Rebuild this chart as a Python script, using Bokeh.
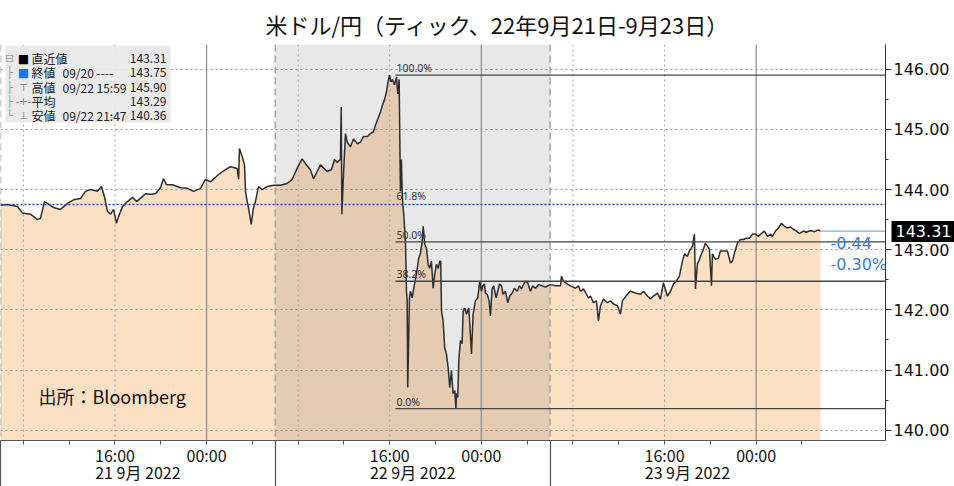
from bokeh.plotting import figure
from bokeh.models import (Range1d, LinearAxis, FixedTicker, Span, BoxAnnotation,
                          Label, NumeralTickFormatter, ColumnDataSource)
from bokeh.embed import file_html
from bokeh.resources import INLINE

TITLE = "米ドル/円（ティック、22年9月21日-9月23日）"
SOURCE = "出所：Bloomberg"

# hours since 2022-09-21 06:00 (JST)
hours = [
    0.00, 0.60, 1.48, 1.92, 2.62, 3.23, 3.49, 3.84, 4.10, 4.63, 5.24, 5.85, 6.38, 6.99,
    7.42, 7.86, 8.47, 8.82, 9.08, 9.34, 9.61, 9.87, 10.13, 10.31, 10.66, 11.09, 11.53,
    11.88, 12.31, 12.66, 13.10, 13.54, 13.97, 14.24, 14.50, 15.02, 15.72, 16.33, 16.86,
    17.47, 17.90, 18.34,
    18.60, 19.04, 19.65, 20.09, 20.67, 20.80, 20.87, 21.11, 21.31, 21.40, 21.55, 21.66,
    21.90, 22.07, 22.27, 22.53, 22.86, 23.29, 23.84, 24.45, 25.04, 25.48, 25.85, 26.20,
    26.35, 26.64, 27.07, 27.34, 27.66, 27.95, 28.21, 28.53, 28.91, 29.17, 29.41, 29.69,
    29.76, 29.82, 29.93, 30.13, 30.28, 30.57, 30.83, 31.18, 31.44, 31.70, 32.05, 32.31,
    32.58, 32.75, 32.93, 33.19, 33.36, 33.54, 33.71, 33.85, 33.98, 34.10, 34.24, 34.41,
    34.59, 34.70, 34.82,
    34.93, 35.02, 35.08, 35.14, 35.22, 35.37, 35.46, 35.52, 35.57, 35.72, 35.81, 35.96,
    36.10, 36.33, 36.53, 36.68, 36.83, 36.92, 37.06, 37.21, 37.35, 37.49, 37.64, 37.79,
    37.93, 38.08, 38.23, 38.37, 38.45, 38.52, 38.66, 38.80, 38.95, 39.10, 39.24, 39.39,
    39.53, 39.68, 39.78, 39.83, 39.94, 40.03, 40.17, 40.32, 40.41, 40.55, 40.70, 40.90,
    40.99, 41.14, 41.28, 41.48, 41.69,
    41.86, 42.01, 42.12, 42.27, 42.36, 42.51, 42.68, 42.79, 42.94, 43.08, 43.29, 43.58,
    43.76, 43.90, 44.10, 44.31, 44.48, 44.69, 44.89, 45.13, 45.33, 45.50, 45.70, 45.85,
    46.05, 46.29, 46.49, 46.72, 47.01, 47.31, 47.60, 48.03, 48.47, 48.91,
    49.00, 49.17, 49.52, 49.78, 50.22, 50.48, 50.66, 50.92, 51.18, 51.35, 51.53, 51.79,
    52.05, 52.23, 52.40, 52.66, 53.01, 53.28, 53.54, 53.89, 54.15, 54.32, 54.76, 55.02,
    55.46, 55.90, 56.16, 56.51, 56.77, 57.03, 57.38, 57.64, 57.90, 58.25, 58.52, 58.78,
    59.04, 59.30, 59.56, 59.74, 60.00, 60.17, 60.44, 60.61, 60.70, 60.87, 61.05, 61.22,
    61.40, 61.57, 61.75, 61.92, 62.10, 62.18, 62.45, 62.71, 62.88, 63.14, 63.49, 63.76,
    63.93, 64.10, 64.37, 64.63, 64.89, 65.15, 65.41, 65.68, 65.94, 66.20, 66.46, 66.72,
    66.99, 67.25, 67.42, 67.69, 67.95, 68.21, 68.47, 68.73, 69.00, 69.26, 69.52, 69.78,
    70.13, 70.39, 70.74, 71.09, 71.44, 71.62,
]
prices = [
    143.74, 143.75, 143.72, 143.61, 143.59, 143.50, 143.52, 143.80, 143.77, 143.70, 143.67,
    143.77, 143.83, 143.85, 143.97, 144.00, 143.97, 144.05, 143.88, 143.64, 143.59, 143.67,
    143.44, 143.55, 143.72, 143.80, 143.87, 143.80, 143.87, 143.93, 143.92, 143.93, 144.03,
    144.18, 144.08, 144.08, 144.03, 144.02, 143.97, 144.02, 144.17, 144.13,
    144.17, 144.25, 144.33, 144.38, 144.35, 144.17, 144.68, 144.55, 144.41, 143.97, 143.80,
    143.70, 143.42, 143.67, 143.80, 144.05, 144.00, 144.05, 144.07, 144.07, 144.10, 144.17,
    144.33, 144.46, 144.51, 144.43, 144.33, 144.18, 144.30, 144.41, 144.36, 144.30, 144.33,
    144.50, 144.45, 144.50, 145.37, 143.59, 144.13, 144.93, 144.79, 144.71, 144.84, 144.76,
    144.79, 144.88, 144.88, 144.93, 144.96, 145.07, 145.16, 145.29, 145.40, 145.49, 145.62,
    145.79, 145.90, 145.79, 145.83, 145.74, 145.87, 145.59, 145.83,
    143.97, 144.50, 143.97, 143.75, 143.59, 143.14, 142.31, 142.15, 140.71, 142.20, 142.31,
    142.20, 142.36, 142.60, 142.86, 142.94, 143.14, 143.39, 143.09, 143.02, 142.76, 142.69,
    142.81, 142.36, 142.60, 142.76, 142.69, 142.81, 142.81, 141.98, 141.82, 141.37, 141.27,
    141.04, 140.71, 140.99, 140.61, 140.66, 140.36, 140.61, 140.55, 141.16, 141.49, 141.44,
    141.98, 142.03, 141.93, 142.03, 141.77, 141.27, 141.93, 142.15, 142.20,
    142.48, 142.31, 142.40, 142.43, 142.28, 142.26, 142.15, 141.90, 142.35, 142.40, 142.20,
    142.43, 142.40, 142.26, 142.31, 142.12, 142.23, 142.28, 142.36, 142.31, 142.40, 142.35,
    142.43, 142.48, 142.45, 142.31, 142.40, 142.36, 142.42, 142.40, 142.38, 142.42, 142.40,
    142.40,
    142.56, 142.48, 142.43, 142.40, 142.36, 142.40, 142.31, 142.35, 142.26, 142.20, 142.23,
    142.12, 142.15, 141.82, 142.07, 142.18, 142.12, 142.15, 142.10, 142.07, 141.93, 142.15,
    142.26, 142.31, 142.28, 142.26, 142.31, 142.23, 142.18, 142.23, 142.28, 142.18, 142.45,
    142.23, 142.31, 142.43, 142.48, 142.56, 142.81, 142.93, 142.89, 142.98, 143.06, 143.26,
    142.35, 142.76, 142.84, 142.93, 143.01, 143.11, 143.06, 143.01, 142.40, 142.93, 142.84,
    142.86, 142.98, 142.98, 142.98, 142.78, 142.81, 142.94, 143.11, 143.17, 143.17, 143.19,
    143.19, 143.26, 143.26, 143.22, 143.27, 143.31, 143.22, 143.26, 143.22, 143.31, 143.36,
    143.44, 143.39, 143.36, 143.38, 143.34, 143.31, 143.27, 143.31, 143.29, 143.32, 143.30,
    143.33, 143.31,
]

prev_close = 143.75
prev_close_date = "09/20"
last_price = 143.31
high_price = 145.90
high_time = "09/22 15:59"
low_price = 140.36
low_time = "09/22 21:47"
avg_price = 143.29
change = -0.44
change_pct = -0.30

fib_ratios = [0.0, 0.382, 0.5, 0.618, 1.0]
fib_names = ["0.0%", "38.2%", "50.0%", "61.8%", "100.0%"]
fib_start_hour = 34.5

price_ticks = [140, 141, 142, 143, 144, 145, 146]
time_ticks = [2, 6, 10, 14, 18, 22, 26, 30, 34, 38, 42, 46, 50, 54, 58, 62, 66, 70]
time_tick_labels = {10: "16:00", 18: "00:00", 34: "16:00", 42: "00:00", 58: "16:00", 66: "00:00"}
day_centers = [12, 36, 60]
day_names = ["21 9月 2022", "22 9月 2022", "23 9月 2022"]
day_starts = [0, 24, 48]
midnights = [18, 42, 66]
grid_hours = [2, 10, 26, 34, 50, 58]
shaded_day = (24, 48)

X_END = 77.3
Y_START, Y_END = 139.83, 146.41

W, H = 954, 486
TOP, BOTTOM, LEFT, RIGHT = 42, 46, 0, 69
FRAME_H = H - TOP - BOTTOM

JP = "Noto Sans CJK JP"
NUM = "DejaVu Sans"

p = figure(width=W, height=H, x_range=Range1d(0, X_END), y_range=Range1d(Y_START, Y_END),
           y_axis_location="right", toolbar_location=None, output_backend="svg",
           min_border_top=TOP, min_border_bottom=BOTTOM, min_border_left=LEFT,
           min_border_right=RIGHT, title=TITLE, outline_line_color=None)

p.title.align = "left"
p.title.offset = 265
p.title.standoff = 10
p.title.text_font = JP
p.title.text_font_size = "22px"
p.title.text_font_style = "normal"
p.title.text_color = "#111111"

src = ColumnDataSource(dict(h=hours, p=prices))

# filled area under the price line
p.varea(x="h", y1=Y_START - 1, y2="p", source=src, fill_color="#FCE0C4", level="image")

# grid
p.xgrid.visible = False
p.ygrid.grid_line_color = "#9a9a9a"
p.ygrid.grid_line_dash = "2 3"
p.ygrid.grid_line_width = 1

# shaded day
p.add_layout(BoxAnnotation(left=shaded_day[0], right=shaded_day[1], fill_color="black",
                           fill_alpha=0.09, line_color=None, level="underlay"))

for h in grid_hours:
    p.add_layout(Span(location=h, dimension="height", line_color="#a0a0a0",
                      line_dash="2 3", line_width=1, level="underlay"))
for h in midnights:
    p.add_layout(Span(location=h, dimension="height", line_color="#8c8c8c",
                      line_width=1.2, level="underlay"))
for h in day_starts:
    p.add_layout(Span(location=h, dimension="height", line_color="#a8a8a8",
                      line_dash="7 4", line_width=1.6, level="underlay"))

# price line
p.line("h", "p", source=src, line_color="#2e2e2e", line_width=1.5)

# fibonacci retracement
rng = high_price - low_price
fib_levels = [low_price + r * rng for r in fib_ratios]
seg_levels = [lv for r, lv in zip(fib_ratios, fib_levels) if r != 0.618]
p.segment(x0=[fib_start_hour] * len(seg_levels), x1=[X_END] * len(seg_levels),
          y0=seg_levels, y1=seg_levels, line_color="#444444", line_width=1.3)
for name, lv in zip(fib_names, fib_levels):
    p.add_layout(Label(x=fib_start_hour, y=lv, text=name, text_baseline="bottom",
                       x_offset=1, y_offset=0, text_font="Noto Sans",
                       text_font_size="10.5px", text_color="#333333"))

# previous close line
p.add_layout(Span(location=prev_close, dimension="width", line_color="#1F4FA0",
                  line_dash="2 2", line_width=1.5))

# last price line + change labels
p.segment(x0=[hours[-1]], x1=[X_END], y0=[last_price], y1=[last_price],
          line_color="#7AAEE4", line_width=1.3)
p.add_layout(Label(x=hours[-1], y=last_price, x_offset=10, y_offset=-12,
                   text=f"{change:.2f}", text_baseline="middle", text_font=NUM,
                   text_font_size="16px", text_color="#3A7BD5"))
p.add_layout(Label(x=hours[-1], y=last_price, x_offset=10, y_offset=-33,
                   text=f"{change_pct:.2f}%", text_baseline="middle", text_font=NUM,
                   text_font_size="16px", text_color="#3A7BD5"))

# legend box (top-left)
p.add_layout(BoxAnnotation(left=5, right=170, top=FRAME_H - 3, bottom=FRAME_H - 80,
                           left_units="screen", right_units="screen",
                           top_units="screen", bottom_units="screen",
                           fill_color="#E8E8E8", fill_alpha=0.92, line_color=None,
                           level="annotation"))
legend_rows = [
    ("■", "#000000", "直近値", "", last_price),
    ("■", "#1E73E8", "終値", f"{prev_close_date} ----", prev_close),
    ("⊤", "#777777", "高値", high_time, high_price),
    ("-+-", "#777777", "平均", "", avg_price),
    ("⊥", "#777777", "安値", low_time, low_price),
]
tree = ["⊟", "├", "├", "├", "└"]
for i, (icon, icol, name, detail, val) in enumerate(legend_rows):
    common = dict(y=Y_END, y_offset=-(14 + 14.3 * i), x_units="screen", y_units="data",
                  text_baseline="middle")
    p.add_layout(Label(x=9, text=tree[i], text_align="center", text_font=NUM,
                       text_font_size="11px", text_color="#999999", **common))
    p.add_layout(Label(x=23, text=icon, text_align="center", text_font=NUM,
                       text_font_size="12px" if icon == "■" else "10px",
                       text_color=icol, **common))
    p.add_layout(Label(x=31, text=name, text_font=JP, text_font_size="12px",
                       text_color="#222222", **common))
    if detail:
        p.add_layout(Label(x=62, text=detail, text_font=JP, text_font_size="12px",
                           text_color="#222222", **common))
    p.add_layout(Label(x=166, text=f"{val:.2f}", text_align="right", text_font=JP,
                       text_font_size="12px", text_color="#222222", **common))

# source note
p.add_layout(Label(x=38, y=45, x_units="screen", y_units="screen", text=SOURCE,
                   text_baseline="middle", text_font=JP, text_font_size="18px",
                   text_color="#111111"))

# right price axis
ya = p.yaxis[0]
ya.ticker = FixedTicker(ticks=price_ticks, minor_ticks=[t + 0.5 for t in price_ticks[:-1]])
ya.formatter = NumeralTickFormatter(format="0.00")
ya.major_label_text_font = NUM
ya.major_label_text_font_size = "16px"
ya.major_label_text_color = "#111111"
ya.major_tick_out = 6
ya.major_tick_in = 0
ya.minor_tick_out = 3
ya.minor_tick_in = 0
ya.major_label_standoff = 2
ya.axis_line_color = "#333333"
ya.major_tick_line_color = "#333333"
ya.minor_tick_line_color = "#333333"

# last-price tag on the price axis (black box, white text)
tag = LinearAxis(ticker=FixedTicker(ticks=[last_price], minor_ticks=[]),
                 major_label_overrides={last_price: f"{last_price:.2f}"},
                 axis_line_color=None, minor_tick_line_color=None,
                 major_tick_line_color="black", major_tick_line_width=21,
                 major_tick_line_cap="butt",
                 major_tick_in=61, major_tick_out=4, major_label_standoff=-61,
                 major_label_text_font=NUM, major_label_text_font_size="16px",
                 major_label_text_color="white")
p.add_layout(tag, "right")

# time-of-day axis (minor ticks mark the day boundaries)
xa = p.xaxis[0]
xa.ticker = FixedTicker(ticks=time_ticks, minor_ticks=day_starts)
xa.major_label_overrides = {float(t): time_tick_labels.get(t, "") for t in time_ticks}
xa.major_tick_out = 4
xa.major_tick_in = 0
xa.minor_tick_out = 46
xa.minor_tick_in = 0
xa.minor_tick_line_color = "#555555"
xa.minor_tick_line_width = 1.2
xa.axis_line_color = "#555555"
xa.major_tick_line_color = "#555555"
xa.major_label_text_font = JP
xa.major_label_text_font_size = "16px"
xa.major_label_text_color = "#111111"
xa.major_label_standoff = -44

# day axis
da = LinearAxis(ticker=FixedTicker(ticks=day_centers, minor_ticks=[]),
                major_label_overrides={float(c): n for c, n in zip(day_centers, day_names)},
                axis_line_color=None, major_tick_line_color=None, minor_tick_line_color=None,
                major_tick_out=0, major_tick_in=0, major_label_standoff=-10,
                major_label_text_font=JP, major_label_text_font_size="16px",
                major_label_text_color="#111111")
p.add_layout(da, "below")

open("out.html", "w").write(file_html(p, INLINE))
